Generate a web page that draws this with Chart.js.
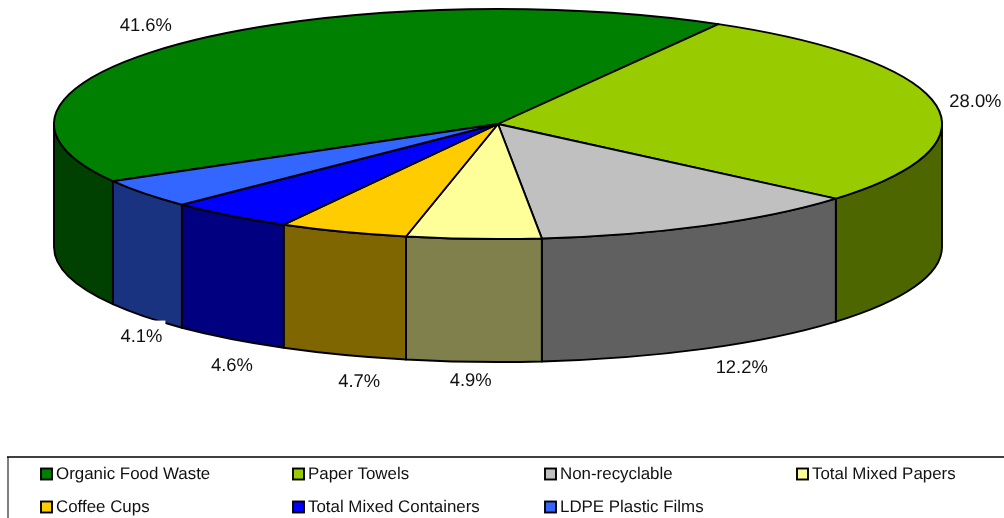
<!DOCTYPE html>
<html>
<head>
<meta charset="utf-8">
<style>html,body{margin:0;padding:0;background:#fff;overflow:hidden}canvas{display:block}</style>
<script src="https://cdn.jsdelivr.net/npm/chart.js@4/dist/chart.umd.min.js"></script>
</head>
<body>
<canvas id="chart" width="1004" height="518"></canvas>
<script>
const categories = ['Organic Food Waste', 'Paper Towels', 'Non-recyclable', 'Total Mixed Papers', 'Coffee Cups', 'Total Mixed Containers', 'LDPE Plastic Films'];
const shares = [41.6, 28.0, 12.2, 4.9, 4.7, 4.6, 4.1];
const topColors = ['#008000', '#99CC00', '#C0C0C0', '#FFFF99', '#FFCC00', '#0000FF', '#3366FF'];
const wallColors = ['#004000', '#4D6600', '#606060', '#80804D', '#806600', '#000080', '#1A3380'];
// Nudge of each percentage label away from the rim of its slice.
const labelNudges = [[-38, -17], [40, -2], [38, 19], [-3, 19], [16, 27], [2, 27], [-3, 20]];

// Projection of the tilted disc onto the canvas.
const disc = { cx: 498, cy: 124, rx: 444, ry: 115, depth: 123 };
const outline = { color: '#000', width: 1.9 };
const legendBox = { left: 8, top: 457, colStep: 252, rowStep: 33, firstX: 41, firstY: 474, swatch: 11 };
const FONT = '"Liberation Sans", Arial, sans-serif';

class Arc3D extends Chart.ArcElement {
  static id = 'arc3d';
  draw(ctx) {
    const { startAngle, endAngle } = this.getProps(['startAngle', 'endAngle'], true);
    ctx.save();
    ctx.beginPath();
    ctx.moveTo(disc.cx, disc.cy);
    ctx.ellipse(disc.cx, disc.cy, disc.rx, disc.ry, 0, startAngle, endAngle);
    ctx.closePath();
    ctx.fillStyle = this.options.backgroundColor;
    ctx.fill();
    ctx.lineJoin = 'round';
    ctx.strokeStyle = outline.color;
    ctx.lineWidth = outline.width;
    ctx.stroke();
    ctx.restore();
  }
}

// Front-facing part of a slice: angles between 0 and PI in canvas terms.
function frontSpan(a0, a1) {
  for (const shift of [-2 * Math.PI, 0, 2 * Math.PI]) {
    const s = Math.max(a0 + shift, 0), e = Math.min(a1 + shift, Math.PI);
    if (e > s) return [s, e];
  }
  return null;
}

class Pie3DController extends Chart.PieController {
  static id = 'pie3d';
  static defaults = { dataElementType: 'arc3d' };
  static overrides = Chart.PieController.overrides;
  draw() {
    const ctx = this.chart.ctx;
    const arcs = this.getMeta().data;
    arcs.forEach((arc, i) => {
      const span = frontSpan(arc.startAngle, arc.endAngle);
      if (!span) return;
      ctx.save();
      ctx.beginPath();
      ctx.ellipse(disc.cx, disc.cy, disc.rx, disc.ry, 0, span[0], span[1]);
      ctx.ellipse(disc.cx, disc.cy + disc.depth, disc.rx, disc.ry, 0, span[1], span[0], true);
      ctx.closePath();
      ctx.fillStyle = wallColors[i];
      ctx.fill();
      ctx.lineJoin = 'round';
      ctx.strokeStyle = outline.color;
      ctx.lineWidth = outline.width;
      ctx.stroke();
      ctx.restore();
    });
    super.draw();
  }
}

Chart.register(Arc3D, Pie3DController);

const sliceLabels = {
  id: 'sliceLabels',
  afterDatasetsDraw(chart) {
    const ctx = chart.ctx;
    ctx.save();
    ctx.textRendering = 'geometricPrecision';
    ctx.font = '18.4px ' + FONT;
    ctx.textAlign = 'center';
    ctx.textBaseline = 'middle';
    chart.getDatasetMeta(0).data.forEach((arc, i) => {
      const mid = (arc.startAngle + arc.endAngle) / 2;
      const sy = Math.sin(mid);
      const x = disc.cx + disc.rx * Math.cos(mid) + labelNudges[i][0];
      const y = disc.cy + disc.ry * sy + (sy > 0 ? disc.depth : 0) + labelNudges[i][1];
      const text = shares[i].toFixed(1) + '%';
      const w = ctx.measureText(text).width;
      ctx.fillStyle = '#fff';
      ctx.fillRect(x - w / 2 - 3, y - 16, w + 6, 29);
      ctx.fillStyle = '#111';
      ctx.fillText(text, x, y);
    });
    ctx.restore();
  }
};

const gridLegend = {
  id: 'gridLegend',
  afterDraw(chart) {
    const ctx = chart.ctx, b = legendBox;
    const ds = chart.data.datasets[0];
    ctx.save();
    ctx.textRendering = 'geometricPrecision';
    ctx.lineWidth = 2;
    ctx.strokeStyle = '#808080';
    ctx.beginPath(); ctx.moveTo(b.left, b.top); ctx.lineTo(b.left, chart.height); ctx.stroke();
    ctx.lineWidth = 1.5;
    ctx.strokeStyle = '#000';
    ctx.beginPath(); ctx.moveTo(b.left - 1, b.top); ctx.lineTo(chart.width, b.top); ctx.stroke();
    ctx.font = '16.9px ' + FONT;
    ctx.textAlign = 'left';
    ctx.textBaseline = 'middle';
    chart.data.labels.forEach((label, i) => {
      const x = b.firstX + (i % 4) * b.colStep;
      const y = b.firstY + Math.floor(i / 4) * b.rowStep;
      ctx.fillStyle = ds.backgroundColor[i];
      ctx.fillRect(x, y - b.swatch / 2, b.swatch, b.swatch);
      ctx.strokeStyle = '#000';
      ctx.lineWidth = 1.9;
      ctx.strokeRect(x, y - b.swatch / 2, b.swatch, b.swatch);
      ctx.fillStyle = '#111';
      ctx.fillText(label, x + 15, y + 0.5);
    });
    ctx.restore();
  }
};

new Chart(document.getElementById('chart'), {
  type: 'pie3d',
  data: {
    labels: categories,
    datasets: [{ data: shares, backgroundColor: topColors, borderColor: outline.color, borderWidth: outline.width }]
  },
  options: {
    responsive: false,
    animation: false,
    rotation: -119.85,
    plugins: { legend: { display: false }, tooltip: { enabled: false } }
  },
  plugins: [sliceLabels, gridLegend]
});
</script>
</body>
</html>
